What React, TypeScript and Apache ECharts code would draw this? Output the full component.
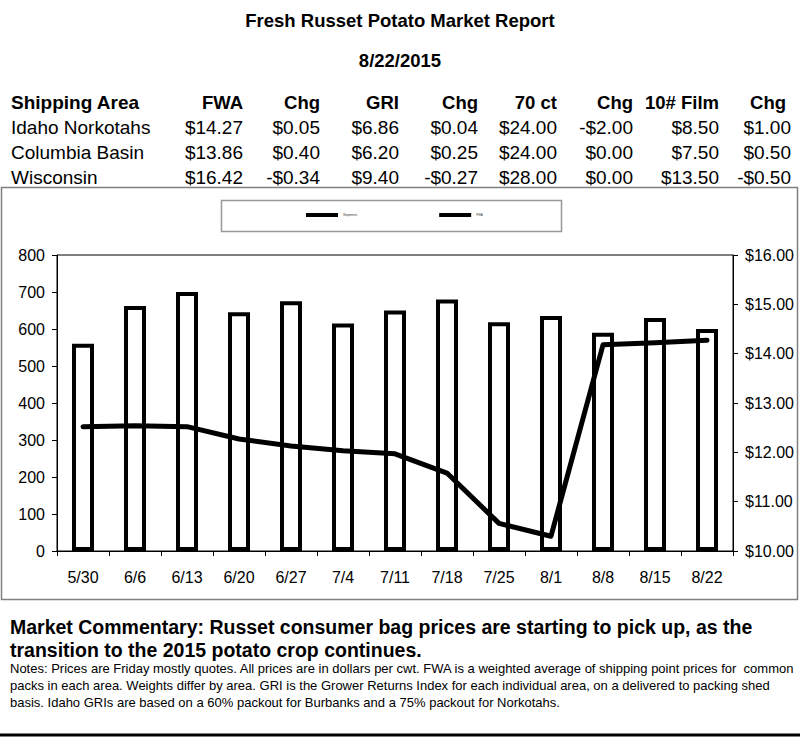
import React, { useEffect, useRef } from "react";
import * as echarts from "echarts";

const reportTitle = "Fresh Russet Potato Market Report";
const reportDate = "8/22/2015";

const tableHeaders = ["Shipping Area", "FWA", "Chg", "GRI", "Chg", "70 ct", "Chg", "10# Film", "Chg"];
const rowIdaho = ["Idaho Norkotahs", "$14.27", "$0.05", "$6.86", "$0.04", "$24.00", "-$2.00", "$8.50", "$1.00"];
const rowColumbia = ["Columbia Basin", "$13.86", "$0.40", "$6.20", "$0.25", "$24.00", "$0.00", "$7.50", "$0.50"];
const rowWisconsin = ["Wisconsin", "$16.42", "-$0.34", "$9.40", "-$0.27", "$28.00", "$0.00", "$13.50", "-$0.50"];

const categories = ["5/30", "6/6", "6/13", "6/20", "6/27", "7/4", "7/11", "7/18", "7/25", "8/1", "8/8", "8/15", "8/22"];
const shipments = [560, 662, 700, 645, 675, 615, 650, 680, 618, 635, 590, 630, 600];
const fwaPrice = [12.52, 12.54, 12.52, 12.27, 12.13, 12.03, 11.97, 11.58, 10.56, 10.3, 14.18, 14.22, 14.27];

const legendNames = ["Shipments", "FWA"];

const commentaryLines = [
  "Market Commentary: Russet consumer bag prices are starting to pick up, as the",
  "transition to the 2015 potato crop continues.",
];
const notesLines = [
  "Notes: Prices are Friday mostly quotes. All prices are in dollars per cwt. FWA is a weighted average of shipping point prices for  common",
  "packs in each area. Weights differ by area. GRI is the Grower Returns Index for each individual area, on a delivered to packing shed",
  "basis. Idaho GRIs are based on a 60% packout for Burbanks and a 75% packout for Norkotahs.",
];

const FONT = "'Liberation Sans', Arial, sans-serif";

function txt(text: string, x: number, y: number, opts: any = {}) {
  const align = opts.align || "left";
  return {
    type: "text",
    x,
    y,
    silent: true,
    style: {
      text,
      fill: "#000",
      fontFamily: FONT,
      fontSize: opts.fontSize || 16,
      fontWeight: opts.bold ? "bold" : "normal",
      align,
      textAlign: align,
      verticalAlign: "middle",
      textVerticalAlign: "middle",
    },
  };
}

export default function App() {
  const ref = useRef<HTMLDivElement>(null);

  useEffect(() => {
    if (!ref.current) return;
    const chart = echarts.init(ref.current, null, { renderer: "svg" });

    const colRight = [0, 243, 320, 399, 478, 557, 633, 719, 791];
    const headerRight = [0, 243, 320, 399, 478, 557, 633, 719, 786];
    const rows = [rowIdaho, rowColumbia, rowWisconsin];
    const rowY = [127, 152, 177];

    const graphics: any[] = [];
    graphics.push(txt(reportTitle, 400, 20, { bold: true, fontSize: 18.5, align: "center" }));
    graphics.push(txt(reportDate, 400, 60, { bold: true, fontSize: 18.5, align: "center" }));

    tableHeaders.forEach((h, i) => {
      if (i === 0) graphics.push(txt(h, 11, 102, { bold: true, fontSize: 19 }));
      else graphics.push(txt(h, headerRight[i], 102, { bold: true, fontSize: 18.5, align: "right" }));
    });
    rows.forEach((r, ri) => {
      r.forEach((v, i) => {
        if (i === 0) graphics.push(txt(v, 11, rowY[ri], { fontSize: 19 }));
        else graphics.push(txt(v, colRight[i], rowY[ri], { fontSize: 19, align: "right" }));
      });
    });

    // chart frame
    graphics.push({
      type: "rect",
      silent: true,
      shape: { x: 1.5, y: 187.5, width: 796, height: 412 },
      style: { fill: "none", stroke: "#808080", lineWidth: 1.5 },
    });
    // legend frame
    graphics.push({
      type: "rect",
      silent: true,
      shape: { x: 221.5, y: 200.5, width: 340, height: 31 },
      style: { fill: "none", stroke: "#999", lineWidth: 1.5 },
    });

    commentaryLines.forEach((l, i) => {
      graphics.push(txt(l, 10, 627 + i * 23, { bold: true, fontSize: 19.5 }));
    });
    notesLines.forEach((l, i) => {
      graphics.push(txt(l, 10, 668 + i * 17, { fontSize: 13 }));
    });
    graphics.push({
      type: "line",
      silent: true,
      shape: { x1: 0, y1: 735, x2: 800, y2: 735 },
      style: { stroke: "#000", lineWidth: 3 },
    });

    chart.setOption({
      animation: false,
      backgroundColor: "#fff",
      textStyle: { fontFamily: FONT },
      grid: {
        left: 57,
        right: 67,
        top: 255,
        bottom: 187,
        show: true,
        borderColor: "#000",
        borderWidth: 1,
        backgroundColor: "transparent",
      },
      legend: {
        left: 306,
        top: 213,
        padding: 0,
        itemWidth: 32,
        itemHeight: 4,
        itemGap: 82,
        textStyle: { fontSize: 3, color: "#333", fontFamily: FONT },
        data: [
          { name: legendNames[0], icon: "rect", itemStyle: { color: "#000", borderWidth: 0 } },
          { name: legendNames[1], icon: "rect", itemStyle: { color: "#000", borderWidth: 0 } },
        ],
      },
      xAxis: {
        type: "category",
        data: categories,
        boundaryGap: true,
        axisLine: { lineStyle: { color: "#000", width: 1 } },
        axisTick: { show: true, length: 5, lineStyle: { color: "#000" } },
        axisLabel: { color: "#000", fontSize: 16, margin: 18, fontFamily: FONT },
        splitLine: { show: false },
      },
      yAxis: [
        {
          type: "value",
          min: 0,
          max: 800,
          interval: 100,
          axisLine: { show: true, lineStyle: { color: "#000", width: 1 } },
          axisTick: { show: true, length: 5, lineStyle: { color: "#000" } },
          axisLabel: { color: "#000", fontSize: 16, margin: 12, fontFamily: FONT },
          splitLine: { show: false },
        },
        {
          type: "value",
          min: 10,
          max: 16,
          interval: 1,
          position: "right",
          axisLine: { show: true, lineStyle: { color: "#000", width: 1 } },
          axisTick: { show: true, length: 5, lineStyle: { color: "#000" } },
          axisLabel: {
            color: "#000",
            fontSize: 16,
            margin: 12,
            fontFamily: FONT,
            formatter: (v: number) => "$" + v.toFixed(2),
          },
          splitLine: { show: false },
        },
      ],
      series: [
        {
          name: legendNames[0],
          type: "bar",
          data: shipments,
          barWidth: 22,
          itemStyle: { color: "#fff", borderColor: "#000", borderWidth: 4 },
          z: 2,
        },
        {
          name: legendNames[1],
          type: "line",
          yAxisIndex: 1,
          data: fwaPrice,
          showSymbol: false,
          symbol: "none",
          lineStyle: { color: "#000", width: 5, cap: "round", join: "round" },
          itemStyle: { color: "#000" },
          z: 3,
        },
      ],
      graphic: { elements: graphics },
    });

    return () => chart.dispose();
  }, []);

  return (
    <div
      ref={ref}
      style={{ position: "absolute", left: 0, top: 0, width: 800, height: 738 }}
    />
  );
}
